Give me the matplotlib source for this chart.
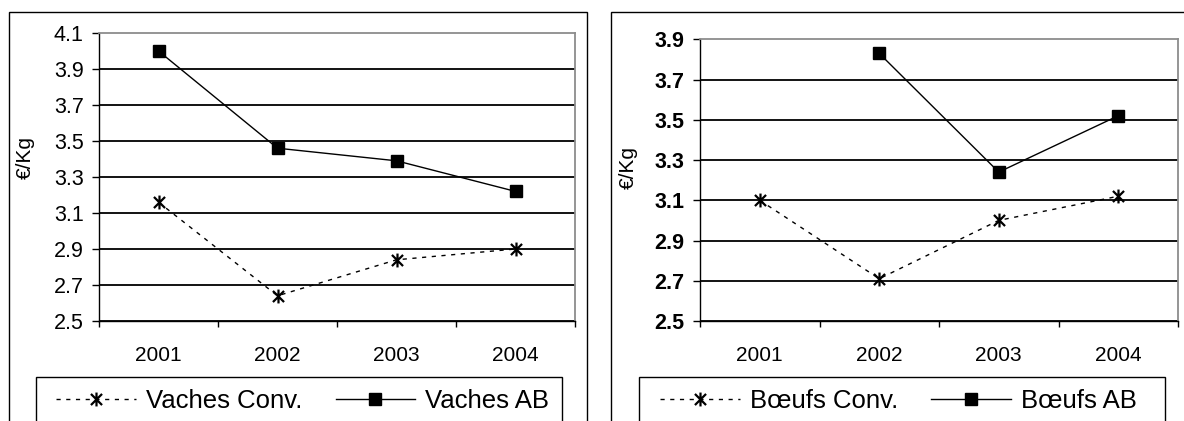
import numpy as np
import matplotlib
matplotlib.use("Agg")
import matplotlib.pyplot as plt
from matplotlib.path import Path
from matplotlib.patches import Rectangle
from matplotlib.lines import Line2D

years = ['2001', '2002', '2003', '2004']
vaches_conv = [3.16, 2.64, 2.84, 2.90]
vaches_ab = [4.00, 3.46, 3.39, 3.22]
boeufs_conv = [3.10, 2.71, 3.00, 3.12]
boeufs_ab = [np.nan, 3.83, 3.24, 3.52]

vaches_ticks = [2.5, 2.7, 2.9, 3.1, 3.3, 3.5, 3.7, 3.9, 4.1]
boeufs_ticks = [2.5, 2.7, 2.9, 3.1, 3.3, 3.5, 3.7, 3.9]

plt.rcParams['font.family'] = ['Liberation Sans', 'DejaVu Sans']

W, H = 1184, 421
fig = plt.figure(figsize=(W / 100, H / 100), dpi=100)

# excel style asterisk: an x with a vertical bar
star = Path([(-1, -1), (1, 1), (-1, 1), (1, -1), (0, -1.25), (0, 1.25)],
            [Path.MOVETO, Path.LINETO, Path.MOVETO, Path.LINETO, Path.MOVETO, Path.LINETO])
dash = (0, (3, 4))


def px_box(x0, y0, x1, y1):
    # pixel box (top-left origin) -> figure fraction rect
    return [x0 / W, 1 - y1 / H, (x1 - x0) / W, (y1 - y0) / H]


def draw_chart(box, frame, legbox, conv, ab, ticks, names, bold, ylab_pos, leg_x):
    fig.add_artist(Rectangle((frame[0], frame[1]), frame[2], frame[3], transform=fig.transFigure,
                             fill=False, edgecolor='black', linewidth=1.0, clip_on=False))
    fig.add_artist(Rectangle((legbox[0], legbox[1]), legbox[2], legbox[3], transform=fig.transFigure,
                             fill=False, edgecolor='black', linewidth=1.0, clip_on=False))
    ax = fig.add_axes(box)
    x = np.arange(len(years)) + 0.5
    ax.plot(x, conv, color='black', linewidth=1.0, linestyle=dash,
            marker=star, markersize=10, markeredgewidth=1.6, fillstyle='none')
    ax.plot(x, ab, color='black', linewidth=1.0, marker='s', markersize=8)
    ax.set_xlim(0, len(years))
    ax.set_ylim(ticks[0], ticks[-1])
    ax.set_yticks(ticks)
    ax.set_yticklabels(['%.1f' % t for t in ticks], fontsize=15.5,
                       fontweight='bold' if bold else 'normal')
    ax.set_xticks(x)
    ax.set_xticklabels(years, fontsize=15)
    ax.set_xticks(np.arange(len(years) + 1), minor=True)
    ax.tick_params(axis='x', which='major', length=0, pad=18)
    ax.tick_params(axis='x', which='minor', length=4.5, width=1.0, direction='out')
    ax.tick_params(axis='y', which='major', length=5, width=1.0, direction='out', pad=6)
    ax.yaxis.grid(True, color='black', linewidth=1.3)
    ax.get_ygridlines()[-1].set_visible(False)
    ax.set_axisbelow(True)
    for s in ['top', 'right']:
        ax.spines[s].set_color('#8c8c8c')
        ax.spines[s].set_linewidth(1.3)
    for s in ['left', 'bottom']:
        ax.spines[s].set_color('black')
        ax.spines[s].set_linewidth(1.0)
    ax.set_ylabel('€/Kg', fontsize=15)
    ax.yaxis.set_label_coords(ylab_pos[0], ylab_pos[1])

    handles = [Line2D([], [], color='black', linewidth=1.0, linestyle=dash,
                      marker=star, markersize=10, markeredgewidth=1.6, fillstyle='none'),
               Line2D([], [], color='black', linewidth=1.0, marker='s', markersize=8)]
    fig.legend(handles, names, loc='center left', bbox_to_anchor=(leg_x / W, 1 - 401 / H),
               ncol=2, frameon=False, fontsize=18.5, borderpad=0, handlelength=3.1,
               handletextpad=0.4, columnspacing=1.3)
    return ax


draw_chart(px_box(99, 33, 575, 321), px_box(9, 12, 587, 460), px_box(36, 377, 562, 460),
           vaches_conv, vaches_ab, vaches_ticks, ['Vaches Conv.', 'Vaches AB'], False,
           (-0.135, 0.569), 43)
draw_chart(px_box(700, 39.3, 1178, 321), px_box(611, 12, 1200, 460), px_box(639, 377, 1165, 460),
           boeufs_conv, boeufs_ab, boeufs_ticks, ['Bœufs Conv.', 'Bœufs AB'], True,
           (-0.131, 0.546), 647)

fig.savefig('out.png', dpi=100)
